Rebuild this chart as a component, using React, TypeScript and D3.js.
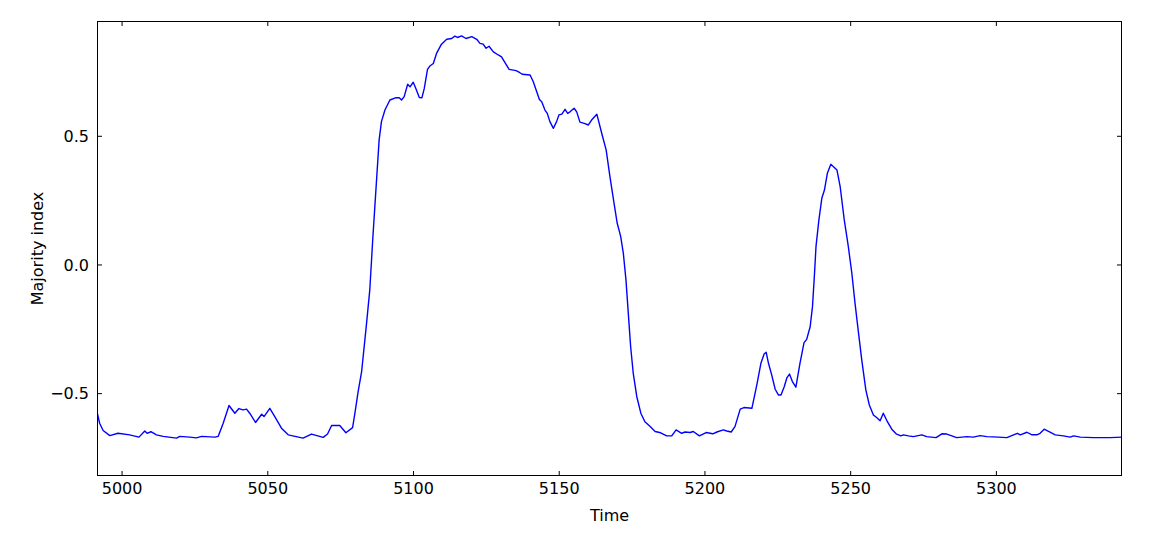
import React from "react";
import * as d3 from "d3";

const times = [
  4991.4, 4992.3, 4993.5, 4995.8, 4998.6, 5002.6, 5005.8, 5007.8, 5008.6, 5009.9, 5011.8, 5014.1,
  5018.7, 5019.8, 5023.2, 5025.5, 5027.3, 5031.8, 5033.0, 5034.7, 5036.7, 5038.7,
  5040.1, 5041.5, 5042.7, 5043.8, 5045.8, 5047.9, 5048.7, 5050.7, 5052.4, 5054.7,
  5057.0, 5062.1, 5065.0, 5069.0, 5070.5, 5071.9, 5074.7, 5076.8, 5079.1, 5079.9,
  5081.0, 5082.2, 5083.9, 5085.0, 5086.0, 5088.2, 5089.0, 5090.2, 5091.9, 5094.0,
  5095.1, 5095.9, 5096.8, 5098.0, 5098.8, 5099.9, 5100.8, 5102.0, 5102.9, 5103.7,
  5104.8, 5105.6, 5106.8, 5107.9, 5109.6, 5111.4, 5113.1, 5114.2, 5115.1, 5116.5,
  5118.0, 5120.0, 5121.7, 5122.8, 5123.9, 5124.9, 5125.9, 5127.4, 5129.1, 5130.2,
  5131.4, 5132.8, 5135.2, 5136.5, 5137.3, 5140.0, 5141.1, 5143.2, 5144.0, 5145.1,
  5145.9, 5146.8, 5148.0, 5149.1, 5149.9, 5150.9, 5152.0, 5152.9, 5153.7, 5155.1,
  5156.0, 5157.1, 5158.6, 5160.0, 5161.1, 5162.9, 5164.6, 5166.1, 5167.4, 5168.8,
  5169.9, 5171.1, 5172.0, 5172.9, 5173.7, 5174.5, 5175.4, 5176.6, 5178.0, 5179.4,
  5181.2, 5182.9, 5184.8, 5186.9, 5188.6, 5190.1, 5192.0, 5193.2, 5194.9, 5196.0,
  5198.1, 5200.4, 5202.7, 5204.1, 5206.3, 5207.5, 5209.0, 5210.3, 5212.1, 5213.4,
  5216.1, 5217.8, 5219.2, 5220.3, 5221.0, 5221.8, 5222.9, 5224.1, 5225.2, 5226.1,
  5227.2, 5228.1, 5229.0, 5230.0, 5231.2, 5232.6, 5234.0, 5234.9, 5236.1, 5236.9,
  5237.6, 5238.1, 5239.1, 5240.1, 5241.0, 5242.0, 5243.2, 5244.1, 5245.3, 5246.4,
  5247.8, 5249.2, 5250.4, 5251.5, 5252.7, 5253.8, 5255.2, 5256.4, 5257.8, 5258.7,
  5260.1, 5261.2, 5262.6, 5264.1, 5265.6, 5267.2, 5268.1, 5269.8, 5271.5, 5274.4,
  5276.1, 5279.3, 5281.3, 5283.0, 5286.4, 5289.9, 5292.1, 5294.4, 5296.7, 5300.7,
  5303.6, 5305.9, 5307.2, 5308.2, 5310.5, 5312.2, 5313.9, 5315.0, 5316.4, 5317.9,
  5320.2, 5323.0, 5325.3, 5326.5, 5328.8, 5333.3, 5339.1, 5343.1,
];

const majority = [
  -0.570, -0.615, -0.643, -0.663, -0.654, -0.660, -0.669, -0.645, -0.654, -0.648, -0.660, -0.666,
  -0.673, -0.666, -0.669, -0.672, -0.666, -0.669, -0.666, -0.615, -0.546, -0.576,
  -0.558, -0.563, -0.560, -0.576, -0.612, -0.580, -0.589, -0.557, -0.589, -0.634,
  -0.660, -0.673, -0.657, -0.670, -0.657, -0.624, -0.624, -0.652, -0.632, -0.576,
  -0.492, -0.414, -0.226, -0.097, 0.097, 0.485, 0.557, 0.602, 0.641, 0.650,
  0.650, 0.641, 0.654, 0.702, 0.692, 0.710, 0.686, 0.651, 0.650, 0.686,
  0.760, 0.773, 0.783, 0.822, 0.858, 0.877, 0.880, 0.889, 0.884, 0.890,
  0.880, 0.887, 0.877, 0.861, 0.858, 0.842, 0.850, 0.828, 0.816, 0.809,
  0.786, 0.760, 0.755, 0.747, 0.741, 0.738, 0.712, 0.643, 0.634, 0.602,
  0.589, 0.557, 0.531, 0.557, 0.583, 0.586, 0.605, 0.589, 0.595, 0.609,
  0.595, 0.555, 0.550, 0.544, 0.563, 0.586, 0.511, 0.447, 0.343, 0.240,
  0.162, 0.110, 0.045, -0.058, -0.188, -0.317, -0.421, -0.511, -0.576, -0.609,
  -0.628, -0.647, -0.652, -0.664, -0.664, -0.641, -0.654, -0.649, -0.651, -0.647,
  -0.664, -0.651, -0.656, -0.649, -0.641, -0.645, -0.649, -0.628, -0.560, -0.554,
  -0.557, -0.466, -0.382, -0.346, -0.339, -0.382, -0.427, -0.483, -0.505, -0.505,
  -0.473, -0.439, -0.424, -0.453, -0.475, -0.382, -0.302, -0.289, -0.240, -0.162,
  -0.032, 0.071, 0.175, 0.259, 0.291, 0.356, 0.391, 0.382, 0.369, 0.304,
  0.175, 0.071, -0.032, -0.149, -0.265, -0.369, -0.485, -0.544, -0.583, -0.591,
  -0.605, -0.576, -0.609, -0.638, -0.656, -0.664, -0.660, -0.664, -0.667, -0.660,
  -0.667, -0.671, -0.656, -0.657, -0.671, -0.667, -0.669, -0.663, -0.667, -0.669,
  -0.671, -0.660, -0.654, -0.660, -0.650, -0.660, -0.660, -0.654, -0.638, -0.647,
  -0.660, -0.664, -0.669, -0.664, -0.669, -0.671, -0.671, -0.669,
];

const xTicks = [5000, 5050, 5100, 5150, 5200, 5250, 5300];
const yTicks = [-0.5, 0.0, 0.5];

const W = 1157;
const H = 533;
const M = { left: 97, right: 1122, top: 21, bottom: 476 };
const FONT = "'DejaVu Sans', sans-serif";
const FS = 16;

export default function App() {
  const x = d3.scaleLinear().domain([4991.4, 5343.1]).range([M.left, M.right]);
  const y = d3.scaleLinear().domain([-0.82, 0.948]).range([M.bottom, M.top]);
  const pts: [number, number][] = times.map((t, i) => [t, majority[i]]);
  const line = d3
    .line<[number, number]>()
    .x((d) => x(d[0]))
    .y((d) => y(d[1]));
  const tl = 5;
  return (
    <svg
      width={W}
      height={H}
      style={{ position: "absolute", left: 0, top: 0, background: "#fff" }}
    >
      <rect x={0} y={0} width={W} height={H} fill="#fff" />
      <defs>
        <clipPath id="plot">
          <rect x={M.left} y={M.top} width={M.right - M.left} height={M.bottom - M.top} />
        </clipPath>
      </defs>
      <path
        d={line(pts) || ""}
        fill="none"
        stroke="#0000ff"
        strokeWidth={1.4}
        strokeLinejoin="round"
        clipPath="url(#plot)"
      />
      {xTicks.map((t) => (
        <g key={"x" + t}>
          <line x1={x(t)} x2={x(t)} y1={M.bottom} y2={M.bottom - tl} stroke="#000" strokeWidth={1} />
          <line x1={x(t)} x2={x(t)} y1={M.top} y2={M.top + tl} stroke="#000" strokeWidth={1} />
          <text
            x={x(t)}
            y={M.bottom + 18}
            textAnchor="middle"
            fontFamily={FONT}
            fontSize={FS}
            fill="#000"
          >
            {t}
          </text>
        </g>
      ))}
      {yTicks.map((v) => (
        <g key={"y" + v}>
          <line x1={M.left} x2={M.left + tl} y1={y(v)} y2={y(v)} stroke="#000" strokeWidth={1} />
          <line x1={M.right} x2={M.right - tl} y1={y(v)} y2={y(v)} stroke="#000" strokeWidth={1} />
          <text
            x={M.left - 8}
            y={y(v)}
            dy="0.36em"
            textAnchor="end"
            fontFamily={FONT}
            fontSize={FS}
            fill="#000"
          >
            {v < 0 ? "\u2212" + Math.abs(v).toFixed(1) : v.toFixed(1)}
          </text>
        </g>
      ))}
      <rect
        x={M.left + 0.5}
        y={M.top + 0.5}
        width={M.right - M.left - 1}
        height={M.bottom - M.top - 1}
        fill="none"
        stroke="#000"
        strokeWidth={1}
      />
      <text
        x={(M.left + M.right) / 2}
        y={521}
        textAnchor="middle"
        fontFamily={FONT}
        fontSize={FS}
        fill="#000"
      >
        Time
      </text>
      <text
        transform={`translate(43, ${(M.top + M.bottom) / 2}) rotate(-90)`}
        textAnchor="middle"
        fontFamily={FONT}
        fontSize={FS}
        fill="#000"
      >
        Majority index
      </text>
    </svg>
  );
}
